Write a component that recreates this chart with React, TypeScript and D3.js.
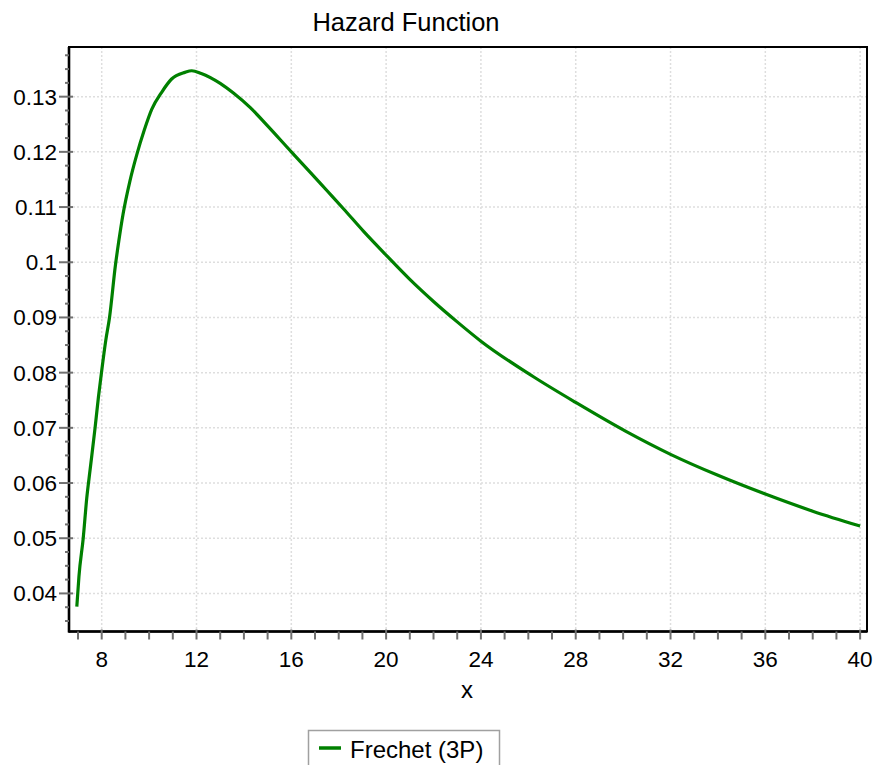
import React, { useEffect, useRef } from "react";
import * as d3 from "d3";

// values
const xValues = [6.95, 7.04, 7.22, 7.37, 7.51, 7.72, 7.86, 7.99, 8.17, 8.33, 8.58, 8.72, 8.9, 9.19, 9.48, 9.8, 10.11, 10.53, 10.95, 11.51, 11.8, 12.2, 13.0, 13.57, 14.27, 14.98, 16.0, 16.8, 17.5, 18.2, 19.05, 20.0, 21.0, 22.0, 23.0, 24.0, 26.2, 28.0, 30.1, 32.0, 34.0, 36.0, 38.0, 40.0];
const hazardValues = [0.0376, 0.0431, 0.05, 0.0573, 0.0624, 0.07, 0.0755, 0.08, 0.0858, 0.09, 0.0995, 0.1038, 0.1087, 0.1147, 0.1195, 0.124, 0.1277, 0.1308, 0.1332, 0.1344, 0.1347, 0.1342, 0.1324, 0.1306, 0.128, 0.1248, 0.12, 0.1163, 0.113, 0.1097, 0.1056, 0.1013, 0.0969, 0.0929, 0.0892, 0.0857, 0.0793, 0.0746, 0.0694, 0.0652, 0.0614, 0.058, 0.0549, 0.0522];
const xTicks = [8, 12, 16, 20, 24, 28, 32, 36, 40];
const xMinor = d3.range(7, 41, 1).filter(v => v % 4 !== 0);
const yTicks = [0.04, 0.05, 0.06, 0.07, 0.08, 0.09, 0.1, 0.11, 0.12, 0.13];
const yMinor = d3.range(0.035, 0.139, 0.0025).filter(v => Math.abs(Math.round(v * 100) - v * 100) > 0.01);
const seriesName = "Frechet (3P)";

const FONT = "'Liberation Sans', Arial, sans-serif";

export default function App() {
  const ref = useRef<SVGSVGElement>(null);

  useEffect(() => {
    const svg = d3.select(ref.current);
    svg.selectAll("*").remove();

    const left = 69, right = 867, top = 47, bottom = 631.5;
    const x = d3.scaleLinear().domain([6.62, 40.29]).range([left, right]);
    const y = d3.scaleLinear().domain([0.0331, 0.139]).range([bottom, top]);

    // grid
    const grid = svg.append("g");
    grid.selectAll(".gx").data(xTicks).join("line")
      .attr("x1", d => x(d)).attr("x2", d => x(d))
      .attr("y1", top).attr("y2", bottom)
      .attr("stroke", "#dedede").attr("stroke-width", 1.5).attr("stroke-dasharray", "2,2");
    grid.selectAll(".gy").data(yTicks).join("line")
      .attr("x1", left).attr("x2", right)
      .attr("y1", d => y(d)).attr("y2", d => y(d))
      .attr("stroke", "#dedede").attr("stroke-width", 1.5).attr("stroke-dasharray", "2,2");

    // curve
    svg.append("defs").append("clipPath").attr("id", "plotclip")
      .append("rect").attr("x", left).attr("y", top).attr("width", right - left).attr("height", bottom - top);
    const line = d3.line<number>()
      .x((d, i) => x(xValues[i]))
      .y(d => y(d))
      .curve(d3.curveMonotoneX);
    svg.append("path")
      .datum(hazardValues)
      .attr("d", line)
      .attr("fill", "none")
      .attr("stroke", "#008000")
      .attr("stroke-width", 3.2)
      .attr("clip-path", "url(#plotclip)");

    // frame
    svg.append("rect")
      .attr("x", left).attr("y", top).attr("width", right - left).attr("height", bottom - top)
      .attr("fill", "none").attr("stroke", "#000").attr("stroke-width", 2);
    svg.append("line").attr("x1", left).attr("x2", left).attr("y1", top).attr("y2", bottom + 1)
      .attr("stroke", "#000").attr("stroke-width", 2.6);
    svg.append("line").attr("x1", left).attr("x2", right).attr("y1", bottom).attr("y2", bottom)
      .attr("stroke", "#000").attr("stroke-width", 2.6);

    // ticks
    const ticks = svg.append("g").attr("stroke", "#707070").attr("stroke-width", 2);
    ticks.selectAll(".ym").data(yMinor).join("line")
      .attr("x1", left - 4).attr("x2", left)
      .attr("y1", d => y(d)).attr("y2", d => y(d));
    ticks.selectAll(".yM").data(yTicks).join("line")
      .attr("x1", left - 10).attr("x2", left + 4)
      .attr("y1", d => y(d)).attr("y2", d => y(d));
    ticks.selectAll(".xm").data(xMinor).join("line")
      .attr("x1", d => x(d)).attr("x2", d => x(d))
      .attr("y1", bottom).attr("y2", bottom + 8);
    ticks.selectAll(".xM").data(xTicks).join("line")
      .attr("x1", d => x(d)).attr("x2", d => x(d))
      .attr("y1", bottom - 2).attr("y2", bottom + 8);

    // labels
    const txt = svg.append("g").attr("font-family", FONT).attr("font-size", 22.5).attr("fill", "#000");
    txt.selectAll(".yl").data(yTicks).join("text")
      .attr("x", left - 12).attr("y", d => y(d) + 8)
      .attr("text-anchor", "end")
      .text(d => d3.format("~g")(d));
    txt.selectAll(".xl").data(xTicks).join("text")
      .attr("x", d => x(d)).attr("y", 667)
      .attr("text-anchor", "middle")
      .text(d => d);
    txt.append("text").attr("x", 467).attr("y", 698).attr("font-size", 24)
      .attr("text-anchor", "middle").text("x");
    txt.append("text").attr("x", 406).attr("y", 31).attr("font-size", 25.5)
      .attr("text-anchor", "middle").text("Hazard Function");

    // legend
    const lg = svg.append("g");
    lg.append("rect").attr("x", 308.5).attr("y", 730.5).attr("width", 191).attr("height", 50)
      .attr("fill", "#fff").attr("stroke", "#a0a0a0").attr("stroke-width", 1.5);
    lg.append("line").attr("x1", 319).attr("x2", 341).attr("y1", 748).attr("y2", 748)
      .attr("stroke", "#008000").attr("stroke-width", 3.5);
    lg.append("text").attr("x", 350).attr("y", 758)
      .attr("font-family", FONT).attr("font-size", 24).attr("fill", "#000")
      .text(seriesName);
  }, []);

  return (
    <svg ref={ref} width={875} height={765}
      style={{ position: "absolute", left: 0, top: 0, background: "#fff" }} />
  );
}
